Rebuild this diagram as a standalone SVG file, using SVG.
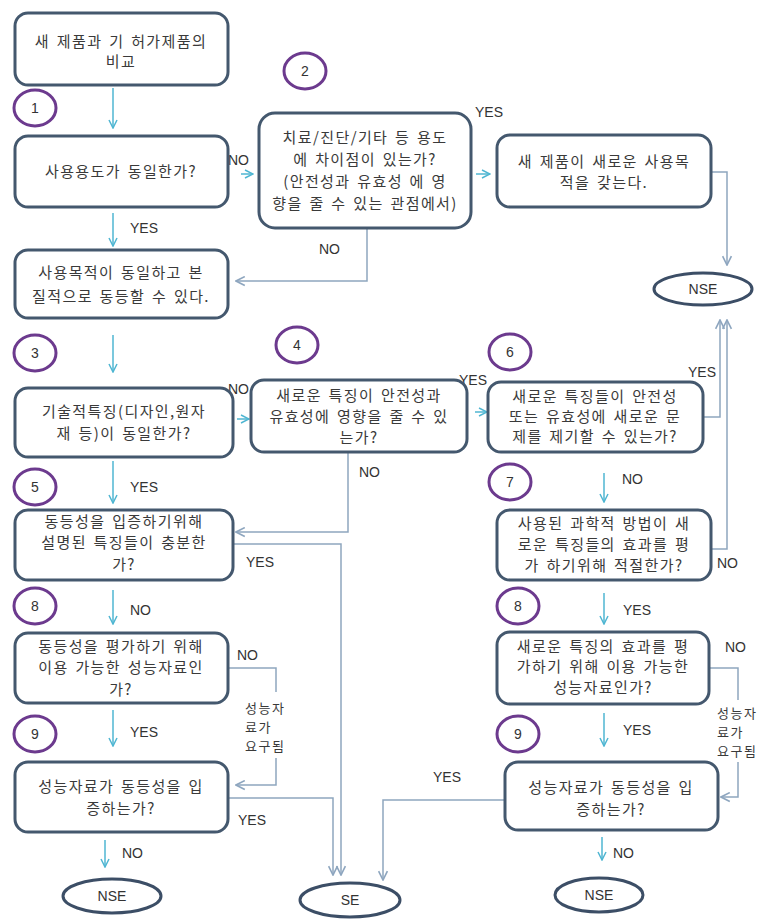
<svg xmlns="http://www.w3.org/2000/svg" width="762" height="919" viewBox="0 0 762 919">
<style>
.box{fill:#fff;stroke:#44586e;stroke-width:3}
.term{fill:#fff;stroke:#3c4e66;stroke-width:3}
.num{fill:#fff;stroke:#6c3a8e;stroke-width:3}
.t{font-family:"Noto Sans CJK KR","Noto Sans",sans-serif;font-size:15px;fill:#3a3a3a;text-anchor:middle;word-spacing:2px;letter-spacing:1.4px}
.s{font-family:"Noto Sans CJK KR","Noto Sans",sans-serif;font-size:13px;fill:#3a3a3a;letter-spacing:1.5px}
.n{font-family:"Liberation Sans",Arial,sans-serif;font-size:14px;fill:#333;text-anchor:middle}
.lb{font-family:"Liberation Sans",Arial,sans-serif;font-size:14px;fill:#333}
.ar{fill:none;stroke:#4fb6d2;stroke-width:1.5;marker-end:url(#mc)}
.cn{fill:none;stroke:#8ea6bf;stroke-width:1.5}
.cna{fill:none;stroke:#8ea6bf;stroke-width:1.5;marker-end:url(#mg)}
</style>
<defs>
<marker id="mc" viewBox="0 0 10 10" refX="9" refY="5" markerWidth="10" markerHeight="10" markerUnits="userSpaceOnUse" orient="auto"><path d="M1,1 L9,5 L1,9" fill="none" stroke="#4fb6d2" stroke-width="1.5"/></marker>
<marker id="mg" viewBox="0 0 10 10" refX="9" refY="5" markerWidth="11" markerHeight="11" markerUnits="userSpaceOnUse" orient="auto"><path d="M1,1 L9,5 L1,9" fill="none" stroke="#8ea6bf" stroke-width="1.5"/></marker>
</defs>
<rect width="762" height="919" fill="#fff"/>

<g id="connectors">
<line class="ar" x1="113" y1="88" x2="113" y2="128"/>
<line class="ar" x1="241" y1="174" x2="253" y2="174"/>
<line class="ar" x1="113" y1="213" x2="113" y2="246"/>
<line class="ar" x1="476" y1="174" x2="490" y2="174"/>
<line class="ar" x1="113" y1="335" x2="113" y2="372"/>
<line class="ar" x1="237" y1="419" x2="249" y2="419"/>
<line class="ar" x1="475" y1="412" x2="487" y2="412"/>
<line class="ar" x1="113" y1="461" x2="113" y2="503"/>
<line class="ar" x1="604" y1="473" x2="604" y2="502"/>
<line class="ar" x1="113" y1="590" x2="113" y2="624"/>
<line class="ar" x1="604" y1="593" x2="604" y2="624"/>
<line class="ar" x1="113" y1="710" x2="113" y2="746"/>
<line class="ar" x1="604" y1="713" x2="604" y2="746"/>
<line class="ar" x1="105" y1="840" x2="105" y2="867"/>
<line class="ar" x1="602" y1="837" x2="602" y2="860"/>
<polyline class="cna" points="367,228 367,281 236,281"/>
<polyline class="cna" points="711,172 727,172 727,265"/>
<polyline class="cna" points="703,417 720,417 720,320"/>
<polyline class="cna" points="711,549 727,549 727,320"/>
<polyline class="cna" points="348,453 348,532 236,532"/>
<polyline class="cna" points="233,544 341,544 341,875"/>
<polyline class="cn" points="228,668 276,668 276,692"/>
<polyline class="cna" points="276,758 276,785 236,785"/>
<polyline class="cna" points="228,798 333,798 333,875"/>
<polyline class="cna" points="505,800 383,800 383,880"/>
<polyline class="cn" points="709,668 738,668 738,700"/>
<polyline class="cna" points="738,762 738,797 721,797"/>
</g>

<g id="labels">
<text class="lb" x="228" y="165">NO</text>
<text class="lb" x="130" y="233">YES</text>
<text class="lb" x="475" y="117">YES</text>
<text class="lb" x="319" y="254">NO</text>
<text class="lb" x="228" y="394">NO</text>
<text class="lb" x="459" y="385">YES</text>
<text class="lb" x="359" y="477">NO</text>
<text class="lb" x="130" y="492">YES</text>
<text class="lb" x="246" y="567">YES</text>
<text class="lb" x="688" y="377">YES</text>
<text class="lb" x="622" y="484">NO</text>
<text class="lb" x="717" y="568">NO</text>
<text class="lb" x="130" y="615">NO</text>
<text class="lb" x="237" y="660">NO</text>
<text class="lb" x="130" y="737">YES</text>
<text class="lb" x="238" y="825">YES</text>
<text class="lb" x="122" y="858">NO</text>
<text class="lb" x="623" y="615">YES</text>
<text class="lb" x="725" y="652">NO</text>
<text class="lb" x="623" y="735">YES</text>
<text class="lb" x="613" y="858">NO</text>
<text class="lb" x="433" y="782">YES</text>
<text class="s" x="245" y="713">성능자</text>
<text class="s" x="245" y="732">료가</text>
<text class="s" x="245" y="751">요구됨</text>
<text class="s" x="717" y="718">성능자</text>
<text class="s" x="717" y="737">료가</text>
<text class="s" x="717" y="756">요구됨</text>
</g>

<g id="n1"><ellipse class="num" cx="35" cy="108" rx="21" ry="18"/><text class="n" x="35" y="113">1</text></g>
<g id="n2"><ellipse class="num" cx="305" cy="71" rx="21" ry="18"/><text class="n" x="305" y="76">2</text></g>
<g id="n3"><ellipse class="num" cx="35" cy="353" rx="21" ry="18"/><text class="n" x="35" y="358">3</text></g>
<g id="n4"><ellipse class="num" cx="297" cy="345" rx="21" ry="18"/><text class="n" x="297" y="350">4</text></g>
<g id="n5"><ellipse class="num" cx="35" cy="487" rx="21" ry="18"/><text class="n" x="35" y="492">5</text></g>
<g id="n6"><ellipse class="num" cx="510" cy="352" rx="21" ry="18"/><text class="n" x="510" y="357">6</text></g>
<g id="n7"><ellipse class="num" cx="510" cy="482" rx="21" ry="18"/><text class="n" x="510" y="487">7</text></g>
<g id="n8a"><ellipse class="num" cx="35" cy="606" rx="21" ry="18"/><text class="n" x="35" y="611">8</text></g>
<g id="n9a"><ellipse class="num" cx="35" cy="734" rx="21" ry="18"/><text class="n" x="35" y="739">9</text></g>
<g id="n8b"><ellipse class="num" cx="518" cy="606" rx="21" ry="18"/><text class="n" x="518" y="611">8</text></g>
<g id="n9b"><ellipse class="num" cx="518" cy="734" rx="21" ry="18"/><text class="n" x="518" y="739">9</text></g>

<g id="boxA"><rect class="box" x="15" y="13" width="213" height="72" rx="13"/>
<text class="t" x="121" y="47">새 제품과 기 허가제품의</text><text class="t" x="121" y="67">비교</text></g>
<g id="boxB"><rect class="box" x="15" y="136" width="213" height="71" rx="13"/>
<text class="t" x="121" y="177">사용용도가 동일한가?</text></g>
<g id="boxC"><rect class="box" x="15" y="250" width="213" height="68" rx="13"/>
<text class="t" x="121" y="278">사용목적이 동일하고  본</text><text class="t" x="121" y="302">질적으로 동등할 수 있다.</text></g>
<g id="box2"><rect class="box" x="259" y="113" width="212" height="115" rx="16"/>
<text class="t" x="365" y="143">치료/진단/기타 등 용도</text><text class="t" x="365" y="165">에 차이점이 있는가?</text><text class="t" x="365" y="187">(안전성과 유효성 에 영</text><text class="t" x="365" y="209">향을 줄 수 있는 관점에서)</text></g>
<g id="boxNP"><rect class="box" x="497" y="135" width="214" height="72" rx="13"/>
<text class="t" x="604" y="167">새 제품이 새로운 사용목</text><text class="t" x="604" y="188">적을 갖는다.</text></g>
<g id="nseTop"><ellipse class="term" cx="703" cy="289" rx="49" ry="16"/><text class="n" x="703" y="294">NSE</text></g>
<g id="boxD"><rect class="box" x="15" y="388" width="218" height="69" rx="13"/>
<text class="t" x="124" y="417">기술적특징(디자인,원자</text><text class="t" x="124" y="439">재 등)이 동일한가?</text></g>
<g id="box4"><rect class="box" x="251" y="380" width="216" height="72" rx="13"/>
<text class="t" x="359" y="401">새로운 특징이 안전성과</text><text class="t" x="359" y="422">유효성에 영향을 줄 수 있</text><text class="t" x="359" y="443">는가?</text></g>
<g id="box6"><rect class="box" x="488" y="382" width="215" height="70" rx="13"/>
<text class="t" x="595" y="402">새로운 특징들이 안전성</text><text class="t" x="595" y="422">또는 유효성에 새로운 문</text><text class="t" x="595" y="442">제를 제기할 수 있는가?</text></g>
<g id="boxE"><rect class="box" x="15" y="510" width="218" height="70" rx="13"/>
<text class="t" x="124" y="527">동등성을 입증하기위해</text><text class="t" x="124" y="548">설명된 특징들이 충분한</text><text class="t" x="124" y="570">가?</text></g>
<g id="box7"><rect class="box" x="497" y="510" width="214" height="70" rx="13"/>
<text class="t" x="604" y="529">사용된 과학적 방법이 새</text><text class="t" x="604" y="550">로운 특징들의 효과를 평</text><text class="t" x="604" y="571">가 하기위해 적절한가?</text></g>
<g id="box8a"><rect class="box" x="15" y="633" width="213" height="70" rx="13"/>
<text class="t" x="121" y="652">동등성을 평가하기 위해</text><text class="t" x="121" y="673">이용 가능한 성능자료인</text><text class="t" x="121" y="695">가?</text></g>
<g id="box8b"><rect class="box" x="497" y="632" width="212" height="72" rx="13"/>
<text class="t" x="603" y="652">새로운 특징의 효과를 평</text><text class="t" x="603" y="672">가하기 위해 이용 가능한</text><text class="t" x="603" y="693">성능자료인가?</text></g>
<g id="box9a"><rect class="box" x="15" y="762" width="213" height="70" rx="13"/>
<text class="t" x="121" y="792">성능자료가 동등성을 입</text><text class="t" x="121" y="814">증하는가?</text></g>
<g id="box9b"><rect class="box" x="505" y="762" width="213" height="68" rx="13"/>
<text class="t" x="611" y="793">성능자료가 동등성을 입</text><text class="t" x="611" y="815">증하는가?</text></g>
<g id="nseL"><ellipse class="term" cx="112" cy="896" rx="49" ry="17"/><text class="n" x="112" y="901">NSE</text></g>
<g id="se"><ellipse class="term" cx="350" cy="900" rx="50" ry="17"/><text class="n" x="350" y="905">SE</text></g>
<g id="nseR"><ellipse class="term" cx="599" cy="895" rx="44" ry="17"/><text class="n" x="599" y="900">NSE</text></g>
</svg>
